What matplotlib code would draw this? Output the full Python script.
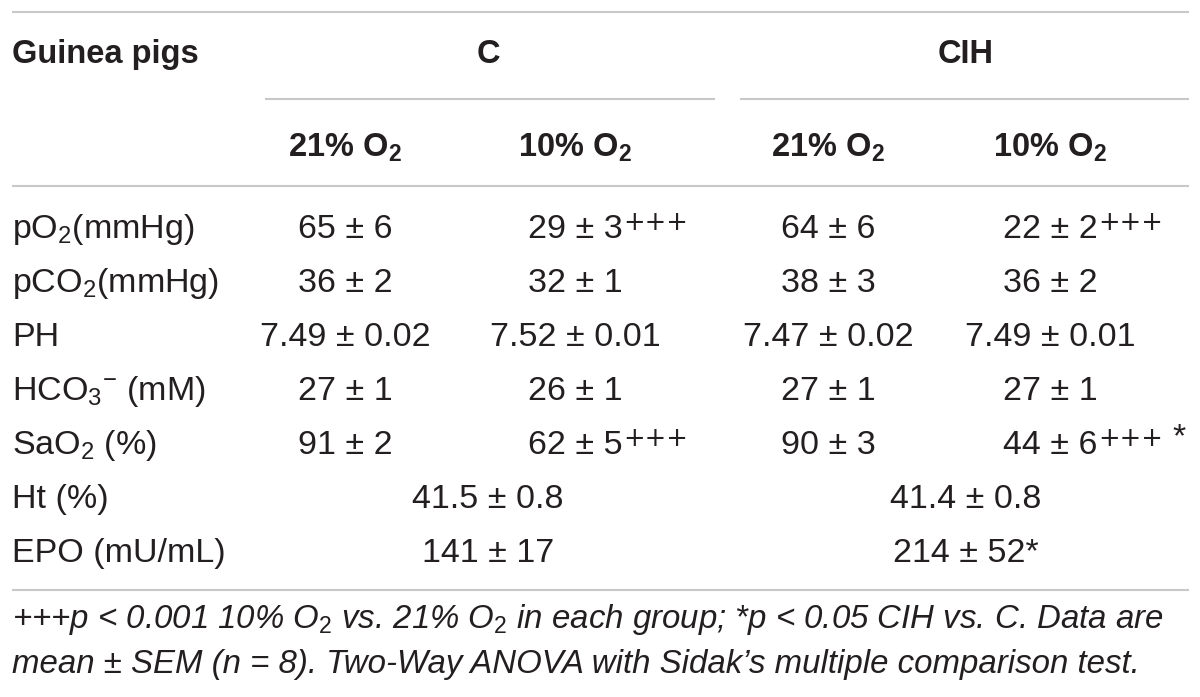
"""Recreate the blood gas table for guinea pigs (C vs CIH) as a matplotlib figure."""

import matplotlib

matplotlib.use("Agg")
import matplotlib.pyplot as plt

plt.rcParams["font.family"] = ["Liberation Sans", "DejaVu Sans"]
plt.rcParams["mathtext.fontset"] = "custom"
plt.rcParams["mathtext.rm"] = "Liberation Sans"
plt.rcParams["mathtext.it"] = "Liberation Sans:italic"
plt.rcParams["mathtext.bf"] = "Liberation Sans:bold"

# --- table content -------------------------------------------------------
groups = ["C", "CIH"]
conditions = [r"21% $\mathbf{O_2}$", r"10% $\mathbf{O_2}$"]

row_labels = [
    r"p$\mathrm{O_2}$(mmHg)",
    r"pC$\mathrm{O_2}$(mmHg)",
    "PH",
    r"HC$\mathrm{O_3}$$^{-}$ (mM)",
    r"Sa$\mathrm{O_2}$ (%)",
]
c_21 = ["65 ± 6", "36 ± 2", "7.49 ± 0.02", "27 ± 1", "91 ± 2"]
c_10 = ["29 ± 3", "32 ± 1", "7.52 ± 0.01", "26 ± 1", "62 ± 5"]
c_10_marks = ["+++", "", "", "", "+++"]
cih_21 = ["64 ± 6", "38 ± 3", "7.47 ± 0.02", "27 ± 1", "90 ± 3"]
cih_10 = ["22 ± 2", "36 ± 2", "7.49 ± 0.01", "27 ± 1", "44 ± 6"]
cih_10_marks = ["+++", "", "", "", "+++"]
cih_10_star = ["", "", "", "", "*"]

pooled_labels = ["Ht (%)", "EPO (mU/mL)"]
pooled_c = ["41.5 ± 0.8", "141 ± 17"]
pooled_cih = ["41.4 ± 0.8", "214 ± 52*"]

footnote_lines = [
    r"+++p < 0.001 10% $\mathit{O_2}$ vs. 21% $\mathit{O_2}$ in each group; *p < 0.05 CIH vs. C. Data are",
    "mean ± SEM (n = 8). Two-Way ANOVA with Sidak’s multiple comparison test.",
]

TEXT = "#231f20"
RULE = "#c8c8c8"
BODY_SIZE = 24.5
HEAD_SIZE = 23.5
NOTE_SIZE = 23.8

fig = plt.figure(figsize=(12, 6.97), dpi=100)
ax = fig.add_axes([0, 0, 1, 1])
ax.set_xlim(0, 1200)
ax.set_ylim(697, 0)
ax.axis("off")

# layout (pixels)
left = 12
right = 1189
col_x = [345, 575, 828, 1050]
group_x = [488, 966]
row_y = [238, 292, 346, 400, 454]
pooled_y = [508, 562]


def rule(y, x0=left, x1=right):
    ax.plot([x0, x1], [y, y], color=RULE, lw=1.5, solid_capstyle="butt")


def add_marks(anchor, plus, star=""):
    """Attach superscript marks to the right edge of a centred value."""
    if plus:
        mark = ax.annotate(
            plus, xy=(1, 0.7), xycoords=anchor, xytext=(0.5, 0),
            textcoords="offset points", ha="left", va="center",
            fontsize=18.5, family="DejaVu Sans", color=TEXT,
        )
        anchor = mark
    if star:
        ax.annotate(
            star, xy=(1, 0.55), xycoords=anchor, xytext=(7, 0),
            textcoords="offset points", ha="left", va="center",
            fontsize=BODY_SIZE, color=TEXT,
        )


# rules
rule(12)
rule(99, 265, 715)
rule(99, 740, right)
rule(186)
rule(590)

# header
ax.text(left, 63, "Guinea pigs", fontsize=HEAD_SIZE, fontweight="bold",
        color=TEXT, ha="left", va="baseline")
for gx, name in zip(group_x, groups):
    ax.text(gx, 63, name, fontsize=HEAD_SIZE, fontweight="bold",
            color=TEXT, ha="center", va="baseline")
for i, cx in enumerate(col_x):
    ax.text(cx, 157, conditions[i % 2], fontsize=HEAD_SIZE, fontweight="bold",
            color=TEXT, ha="center", va="baseline")

# body rows
columns = [c_21, c_10, cih_21, cih_10]
marks = [None, c_10_marks, None, cih_10_marks]
for r, y in enumerate(row_y):
    ax.text(left, y, row_labels[r], fontsize=BODY_SIZE, color=TEXT,
            ha="left", va="baseline")
    for c, cx in enumerate(col_x):
        t = ax.text(cx, y, columns[c][r], fontsize=BODY_SIZE, color=TEXT,
                    ha="center", va="baseline")
        if marks[c] is not None:
            star = cih_10_star[r] if c == 3 else ""
            add_marks(t, marks[c][r], star)

for r, y in enumerate(pooled_y):
    ax.text(left, y, pooled_labels[r], fontsize=BODY_SIZE, color=TEXT,
            ha="left", va="baseline")
    ax.text(group_x[0], y, pooled_c[r], fontsize=BODY_SIZE, color=TEXT,
            ha="center", va="baseline")
    ax.text(group_x[1], y, pooled_cih[r], fontsize=BODY_SIZE, color=TEXT,
            ha="center", va="baseline")

# footnote
for line, y in zip(footnote_lines, [628, 673]):
    ax.text(left, y, line, fontsize=NOTE_SIZE, fontstyle="italic", color=TEXT,
            ha="left", va="baseline")

fig.savefig("out.png", dpi=100)
